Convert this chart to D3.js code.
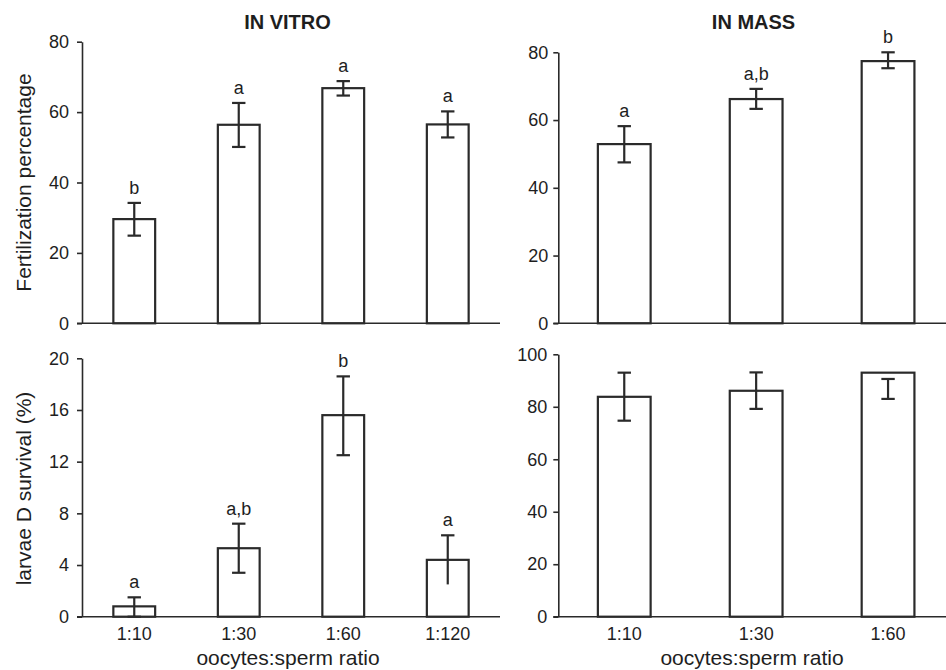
<!DOCTYPE html>
<html>
<head>
<meta charset="utf-8">
<script src="https://cdn.jsdelivr.net/npm/d3@7"></script>
<style>
  body { margin: 0; background: #fff; }
  svg { display: block; font-family: "Liberation Sans", Arial, sans-serif; }
  .axis text { font-size: 18px; fill: #1e1e1e; }
  .axis path, .axis line { stroke: #2a2a2a; stroke-width: 1.6px; }
</style>
</head>
<body>
<div id="chart"></div>
<script>
// categories
const vitroCats = ["1:10", "1:30", "1:60", "1:120"];
const massCats = ["1:10", "1:30", "1:60"];

// fertilization percentage
const vitroFert = [29.6, 56.4, 66.8, 56.5];
const vitroFertLo = [24.9, 50.1, 64.7, 52.8];
const vitroFertHi = [34.2, 62.6, 68.8, 60.2];
const vitroFertLetters = ["b", "a", "a", "a"];

const massFert = [52.9, 66.2, 77.4];
const massFertLo = [47.5, 63.3, 75.3];
const massFertHi = [58.2, 69.2, 80.0];
const massFertLetters = ["a", "a,b", "b"];

// larvae D survival (%)
const vitroSurv = [0.8, 5.3, 15.6, 4.4];
const vitroSurvLo = [0, 3.4, 12.5, 2.5];
const vitroSurvHi = [1.5, 7.2, 18.6, 6.3];
const vitroSurvLetters = ["a", "a,b", "b", "a"];

const massSurv = [83.8, 86.1, 93.0];
const massSurvLo = [74.7, 79.2, 83.0];
const massSurvHi = [93.0, 93.1, 90.6];
const massSurvLetters = ["", "", ""];

// y ticks
const fertTicks = [0, 20, 40, 60, 80];
const vitroSurvTicks = [0, 4, 8, 12, 16, 20];
const massSurvTicks = [0, 20, 40, 60, 80, 100];

const width = 946, height = 670;
const ink = "#2a2a2a";

const svg = d3.select("#chart").append("svg")
  .attr("width", width)
  .attr("height", height);

// panel layout
const panels = [
  { cats: vitroCats, vals: vitroFert, lo: vitroFertLo, hi: vitroFertHi, letters: vitroFertLetters,
    ticks: fertTicks, max: 80, x0: 82, x1: 500, y0: 323.3, y1: 41.7, pad: 8, bottomLabels: false },
  { cats: massCats, vals: massFert, lo: massFertLo, hi: massFertHi, letters: massFertLetters,
    ticks: fertTicks, max: 80, x0: 558.3, x1: 954, y0: 323.3, y1: 52.3, pad: 5, bottomLabels: false },
  { cats: vitroCats, vals: vitroSurv, lo: vitroSurvLo, hi: vitroSurvHi, letters: vitroSurvLetters,
    ticks: vitroSurvTicks, max: 20, x0: 82, x1: 500, y0: 616.7, y1: 358.3, pad: 8, bottomLabels: true },
  { cats: massCats, vals: massSurv, lo: massSurvLo, hi: massSurvHi, letters: massSurvLetters,
    ticks: massSurvTicks, max: 100, x0: 558.3, x1: 954, y0: 616.7, y1: 354.3, pad: 6, bottomLabels: true }
];

panels.forEach(p => {
  const x = d3.scaleBand().domain(p.cats).range([p.x0, p.x1]).paddingInner(0.6).paddingOuter(0.3);
  const y = d3.scaleLinear().domain([0, p.max]).range([p.y0, p.y1]);
  const g = svg.append("g");

  // bars
  g.selectAll("rect.bar")
    .data(p.vals)
    .join("rect")
    .attr("class", "bar")
    .attr("x", (d, i) => x(p.cats[i]))
    .attr("y", d => y(d))
    .attr("width", x.bandwidth())
    .attr("height", d => y(0) - y(d))
    .attr("fill", "#fff")
    .attr("stroke", ink)
    .attr("stroke-width", 2.2);

  // error bars
  const cap = 6.7;
  const eb = g.selectAll("g.err")
    .data(p.vals)
    .join("g")
    .attr("class", "err")
    .attr("stroke", ink)
    .attr("stroke-width", 2.2);
  eb.append("line")
    .attr("x1", (d, i) => x(p.cats[i]) + x.bandwidth() / 2)
    .attr("x2", (d, i) => x(p.cats[i]) + x.bandwidth() / 2)
    .attr("y1", (d, i) => y(p.lo[i]))
    .attr("y2", (d, i) => y(p.hi[i]));
  eb.append("line")
    .attr("x1", (d, i) => x(p.cats[i]) + x.bandwidth() / 2 - cap)
    .attr("x2", (d, i) => x(p.cats[i]) + x.bandwidth() / 2 + cap)
    .attr("y1", (d, i) => y(p.hi[i]))
    .attr("y2", (d, i) => y(p.hi[i]));
  eb.filter((d, i) => p.lo[i] > 0).append("line")
    .attr("x1", (d, i) => x(p.cats[i]) + x.bandwidth() / 2 - cap)
    .attr("x2", (d, i) => x(p.cats[i]) + x.bandwidth() / 2 + cap)
    .attr("y1", (d, i) => y(p.lo[i]))
    .attr("y2", (d, i) => y(p.lo[i]));

  // significance letters
  g.selectAll("text.letter")
    .data(p.letters)
    .join("text")
    .attr("class", "letter")
    .attr("x", (d, i) => x(p.cats[i]) + x.bandwidth() / 2)
    .attr("y", (d, i) => y(p.hi[i]) - 9)
    .attr("text-anchor", "middle")
    .style("font-size", "18px")
    .attr("fill", "#1e1e1e")
    .text(d => d);

  // y axis
  g.append("g")
    .attr("class", "axis")
    .attr("transform", `translate(${p.x0},0)`)
    .call(d3.axisLeft(y).tickValues(p.ticks).tickSize(5).tickSizeOuter(0).tickPadding(p.pad));

  // x baseline
  g.append("line")
    .attr("x1", p.x0 - 5)
    .attr("x2", p.x1)
    .attr("y1", y(0))
    .attr("y2", y(0))
    .attr("stroke", ink)
    .attr("stroke-width", 1.6);

  if (p.bottomLabels) {
    const ax = g.append("g")
      .attr("class", "axis")
      .attr("transform", `translate(0,${y(0)})`)
      .call(d3.axisBottom(x).tickSize(0).tickPadding(11));
    ax.select(".domain").remove();
  }
});

// titles
svg.append("text").attr("x", 287.5).attr("y", 29).attr("text-anchor", "middle")
  .style("font-size", "20px").style("font-weight", "bold").attr("fill", "#1e1e1e").text("IN VITRO");
svg.append("text").attr("x", 753.5).attr("y", 29).attr("text-anchor", "middle")
  .style("font-size", "20px").style("font-weight", "bold").attr("fill", "#1e1e1e").text("IN MASS");

// axis titles
svg.append("text").attr("transform", "translate(31,182.5) rotate(-90)").attr("text-anchor", "middle")
  .style("font-size", "21px").attr("fill", "#1e1e1e").text("Fertilization percentage");
svg.append("text").attr("transform", "translate(31,488.5) rotate(-90)").attr("text-anchor", "middle")
  .style("font-size", "21px").attr("fill", "#1e1e1e").text("larvae D survival (%)");
svg.append("text").attr("x", 288).attr("y", 665).attr("text-anchor", "middle")
  .style("font-size", "21px").attr("fill", "#1e1e1e").text("oocytes:sperm ratio");
svg.append("text").attr("x", 752).attr("y", 665).attr("text-anchor", "middle")
  .style("font-size", "21px").attr("fill", "#1e1e1e").text("oocytes:sperm ratio");
</script>
</body>
</html>
